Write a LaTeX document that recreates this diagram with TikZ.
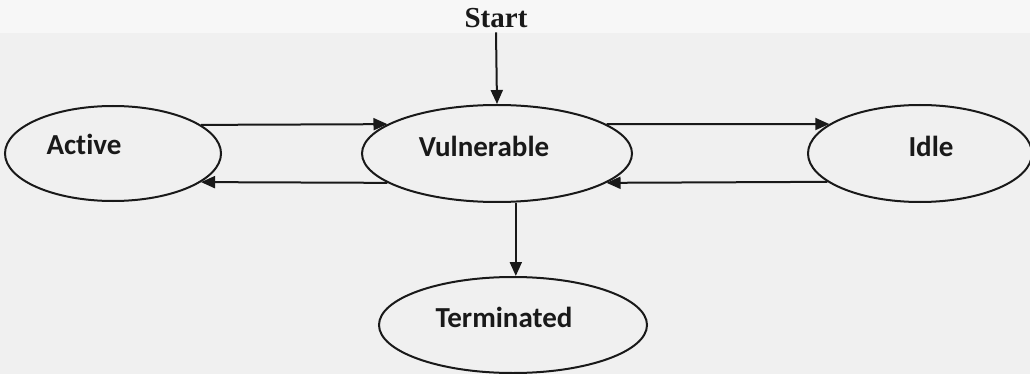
\documentclass[tikz,border=0pt]{standalone}
\usepackage{fontspec}
\usetikzlibrary{shapes.geometric,arrows.meta}
\newfontfamily\calfont[Ligatures=NoCommon]{Carlito}
\newfontfamily\timesfont{Liberation Serif}

\tikzset{
  state/.style={ellipse, draw=black!90, line width=2pt, inner sep=0pt},
  lbl/.style={anchor=base, inner sep=0pt, text=black!90, font=\calfont\bfseries\fontsize{29}{31}\selectfont},
  conn/.style={draw=black!90, line width=2pt, -{Triangle[length=14pt,width=12pt]}},
}

\begin{document}
\begin{tikzpicture}[x=1pt,y=-1pt]
  % page and its slightly lighter top strip
  \fill[gray!12] (0,0) rectangle (1030,374);
  \fill[gray!6] (0,0) rectangle (1030,33);
  \useasboundingbox (0,0) rectangle (1030,374);

  % states
  \node[state, minimum width=216pt, minimum height=95pt] (Active) at (113,153.5) {};
  \node[state, minimum width=270pt, minimum height=97pt] (Vuln)   at (497,153.5) {};
  \node[state, minimum width=224pt, minimum height=97pt] (Idle)   at (920,153.5) {};
  \node[state, minimum width=268pt, minimum height=96pt] (Term)   at (513,325) {};

  % state names
  \node[lbl] (tActive) at ([shift={(-29,1.5)}]Active.center) {Active};
  \node[lbl] (tVuln)   at ([shift={(-13,3.5)}]Vuln.center) {Vulnerable};
  \node[lbl] (tIdle)   at ([shift={(11,3.5)}]Idle.center) {Idle};
  \node[lbl] (tTerm)   at ([shift={(-9,2)}]Term.center) {Terminated};

  % entry point
  \node[anchor=base, inner sep=0pt, text=black!90, font=\timesfont\bfseries\fontsize{29}{31}\selectfont] (Start) at (496,28) {Start};
  \draw[conn] (Start.south) ++(0,4) coordinate (s0) (s0) -- (Vuln.north);

  % transitions
  \draw[conn] (Active.18.7) -- (Vuln.165);
  \draw[conn] (Vuln.195) -- (Active.-18.7);
  \draw[conn] (Vuln.15) -- (Idle.162.1);
  \draw[conn] (Idle.197.9) -- (Vuln.-15);
  \draw[conn] (Vuln.-69.5) -- (Vuln.-69.5 |- Term.north);
\end{tikzpicture}
\end{document}
